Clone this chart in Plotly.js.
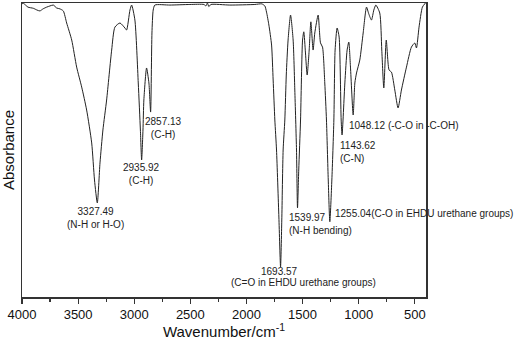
<!DOCTYPE html>
<html>
<head>
<meta charset="utf-8">
<script src="https://cdn.plot.ly/plotly-3.0.1.min.js"></script>
<style>html,body{margin:0;padding:0;background:#fff;}#chart{width:520px;height:340px;}</style>
</head>
<body>
<div id="chart"></div>
<script>
// Wavenumber (cm-1) and relative signal
var wavenumber = [4000, 3988, 3947, 3899, 3866, 3840, 3813, 3780, 3751, 3721, 3691, 3662, 3632, 3602, 3557, 3513, 3468, 3424, 3379, 3354, 3329, 3305, 3279, 3246, 3201, 3172, 3127, 3083, 3068, 3038, 3023, 2994, 2964, 2945, 2934, 2922, 2914, 2890, 2869, 2854, 2842, 2831, 2816, 2682, 2504, 2379, 2361, 2348, 2335, 2317, 2148, 1925, 1863, 1836, 1821, 1800, 1776, 1762, 1747, 1732, 1711, 1696, 1685, 1673, 1658, 1645, 1629, 1607, 1584, 1569, 1554, 1545, 1534, 1518, 1500, 1489, 1474, 1459, 1441, 1426, 1406, 1391, 1361, 1340, 1322, 1302, 1287, 1271, 1257, 1239, 1221, 1210, 1192, 1174, 1156, 1148, 1123, 1103, 1088, 1073, 1049, 1034, 1019, 990, 960, 930, 910, 886, 865, 847, 812, 794, 776, 754, 729, 708, 678, 649, 619, 574, 530, 500, 485, 462, 432, 405];
var absorbance = [99.7, 99.9, 98.6, 98.2, 97.6, 97.3, 98.0, 98.6, 99.0, 99.3, 98.3, 98.0, 97.3, 93.2, 87.4, 78.2, 71.4, 63.6, 52.4, 39.8, 32.0, 45.6, 56.8, 67.0, 84.0, 91.8, 93.2, 91.5, 90.8, 97.6, 99.3, 94.2, 72.8, 56.8, 46.6, 56.8, 67.0, 77.9, 72.8, 62.9, 89.8, 97.6, 99.3, 99.3, 99.5, 99.5, 99.0, 100, 98.8, 99.5, 99.3, 99.5, 99.7, 99.0, 96.9, 92.5, 85.7, 73.8, 60.2, 50.0, 27.2, 10.2, 26.2, 50.0, 60.2, 75.5, 87.4, 95.9, 87.4, 70.4, 50.0, 30.3, 43.2, 60.2, 87.4, 90.2, 83.0, 75.5, 84.0, 93.6, 84.0, 89.8, 95.9, 86.4, 85.0, 72.8, 60.2, 39.8, 25.6, 39.8, 60.2, 84.0, 91.5, 88.4, 60.2, 55.1, 72.8, 84.0, 86.7, 78.2, 61.9, 72.8, 76.2, 80.6, 89.8, 98.6, 96.3, 94.2, 97.6, 99.3, 96.6, 84.0, 71.1, 87.4, 77.2, 76.5, 70.4, 64.3, 70.4, 78.2, 85.0, 86.4, 84.7, 91.8, 98.6, 100];

var xTickVals = [4000, 3500, 3000, 2500, 2000, 1500, 1000, 500];
var xTickText = ["4000", "3500", "3000", "2500", "2000", "1500", "1000", "500"];

// Peak labels
var labelText = ["3327.49<br>(N-H or H-O)", "2935.92<br>(C-H)", "2857.13<br>(C-H)", "1693.57", "(C=O in EHDU urethane groups)", "1539.97<br>(N-H bending)", "1255.04(C-O in EHDU urethane groups)", "1143.62<br>(C-N)", "1048.12 (-C-O in -C-OH)"];
var labelX = [3341, 2931, 2735, 1702, 1489, 1640, 1233, 1188, 1103];
var labelY = [26.8, 41.8, 57.5, 8.8, 4.8, 24.9, 28.5, 49.4, 58.2];
var labelAnchor = ["center", "center", "center", "center", "center", "left", "left", "left", "left"];

var FONT = "Liberation Sans, Arial, Helvetica, sans-serif";

var annotations = labelText.map(function (t, i) {
  return {
    text: t, x: labelX[i], y: labelY[i], xref: "x", yref: "y",
    xanchor: labelAnchor[i], yanchor: "middle", align: labelAnchor[i] === "left" ? "left" : "center",
    showarrow: false, font: {family: FONT, size: 10, color: "#222"}
  };
});

var trace = {
  x: wavenumber, y: absorbance, type: "scatter", mode: "lines",
  line: {color: "#222", width: 1, shape: "spline", smoothing: 0.6},
  hoverinfo: "skip"
};

var layout = {
  width: 520, height: 340,
  margin: {l: 22, r: 94, t: 3, b: 43, pad: 0},
  paper_bgcolor: "#fff", plot_bgcolor: "#fff",
  showlegend: false,
  font: {family: FONT, color: "#111"},
  xaxis: {
    range: [4000, 400], autorange: false,
    tickvals: xTickVals, ticktext: xTickText,
    ticks: "outside", ticklen: 5, tickwidth: 1.2, tickcolor: "#333",
    minor: {dtick: 250, ticks: "outside", ticklen: 3, tickwidth: 1.2, tickcolor: "#333", tick0: 0},
    tickfont: {family: FONT, size: 13, color: "#111"},
    showgrid: false, zeroline: false,
    showline: true, mirror: true, linecolor: "#333", linewidth: 1.5,
    title: {text: "Wavenumber/cm<sup>-1</sup>", font: {family: FONT, size: 15, color: "#111"}, standoff: 9}
  },
  yaxis: {
    range: [0, 100], autorange: false,
    showticklabels: false, ticks: "",
    showgrid: false, zeroline: false,
    showline: true, mirror: true, linecolor: "#333", linewidth: 1.5,
    title: {text: "Absorbance", font: {family: FONT, size: 15, color: "#111"}, standoff: 2}
  },
  annotations: annotations
};

Plotly.newPlot("chart", [trace], layout, {staticPlot: true, displayModeBar: false});
</script>
</body>
</html>
